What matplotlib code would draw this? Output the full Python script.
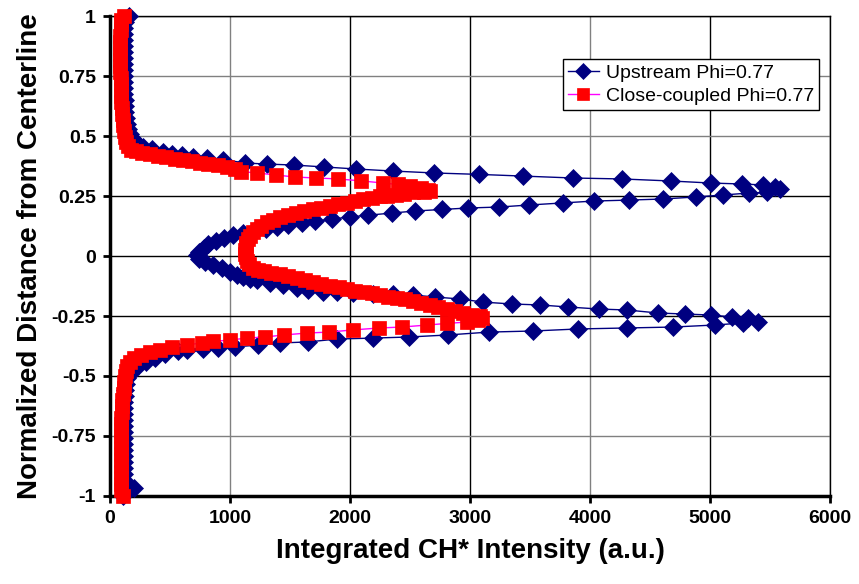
import matplotlib
matplotlib.use('Agg')
import matplotlib.pyplot as plt

plt.rcParams['font.family'] = ['Liberation Sans', 'DejaVu Sans']

# Upstream Phi=0.77 (x = intensity, y = normalized distance)
up_x = [160, 125, 118, 117, 116, 116, 116, 116, 116, 117,
        117, 118, 119, 120, 122, 125, 128, 133, 140, 150,
        163, 180, 205, 240, 275, 350, 442, 517, 600, 692,
        808, 942, 1125, 1308, 1533, 1783, 2050, 2358, 2700, 3075,
        3442, 3858, 4267, 4675, 5008, 5267, 5442, 5542, 5583, 5475,
        5325, 5108, 4883, 4608, 4325, 4033, 3775, 3492, 3242, 2983,
        2767, 2542, 2350, 2150, 2000, 1850, 1708, 1600, 1483, 1392,
        1300, 1200, 1110, 1025, 950, 880, 820, 780, 745, 725,
        740, 790, 858, 930, 1000, 1055, 1108, 1165, 1225, 1333,
        1442, 1558, 1650, 1775, 1892, 2025, 2190, 2358, 2525, 2708,
        2917, 3108, 3350, 3583, 3817, 4075, 4308, 4567, 4792, 5008,
        5183, 5317, 5400, 5275, 5042, 4692, 4308, 3900, 3525, 3158,
        2817, 2492, 2192, 1892, 1650, 1417, 1233, 1042, 900, 775,
        642, 567, 458, 375, 300, 240, 195, 165, 145, 133,
        126, 122, 120, 118, 117, 117, 116, 116, 116, 116,
        116, 116, 116, 116, 117, 120, 140, 200, 130, 110]
up_y = [1.0, 0.975, 0.95, 0.925, 0.9, 0.875, 0.85, 0.825, 0.8, 0.775,
        0.75, 0.725, 0.7, 0.675, 0.65, 0.625, 0.6, 0.575, 0.55, 0.53,
        0.51, 0.49, 0.475, 0.462, 0.454, 0.446, 0.432, 0.425, 0.419, 0.414,
        0.41, 0.402, 0.3875, 0.383, 0.379, 0.371, 0.3625, 0.354, 0.346, 0.34,
        0.333, 0.325, 0.321, 0.3125, 0.304, 0.3, 0.296, 0.2875, 0.279, 0.265,
        0.2625, 0.254, 0.246, 0.2375, 0.233, 0.229, 0.221, 0.2125, 0.204, 0.2,
        0.194, 0.1875, 0.179, 0.17, 0.1625, 0.154, 0.144, 0.1375, 0.129, 0.121,
        0.113, 0.104, 0.095, 0.086, 0.075, 0.062, 0.048, 0.033, 0.018, 0.004,
        -0.012, -0.026, -0.0375, -0.052, -0.067, -0.078, -0.0875, -0.094, -0.1, -0.1125,
        -0.121, -0.133, -0.142, -0.148, -0.152, -0.155, -0.158, -0.16, -0.1625, -0.171,
        -0.179, -0.192, -0.2, -0.204, -0.2125, -0.221, -0.225, -0.2375, -0.242, -0.246,
        -0.254, -0.258, -0.275, -0.279, -0.2875, -0.296, -0.3, -0.304, -0.3125, -0.317,
        -0.329, -0.3375, -0.342, -0.346, -0.358, -0.3625, -0.371, -0.379, -0.383, -0.3875,
        -0.392, -0.396, -0.408, -0.425, -0.44, -0.455, -0.47, -0.49, -0.51, -0.535,
        -0.56, -0.585, -0.61, -0.635, -0.66, -0.685, -0.71, -0.735, -0.76, -0.785,
        -0.81, -0.835, -0.86, -0.885, -0.91, -0.935, -0.955, -0.967, -0.985, -1.0]

# Close-coupled Phi=0.77
cc_x = [120, 95, 90, 88, 87, 86, 86, 86, 86, 87,
        87, 88, 89, 90, 92, 94, 97, 101, 106, 112,
        118, 125, 135, 150, 175, 215, 270, 333, 400, 470,
        540, 608, 680, 750, 820, 900, 975, 1040, 1092, 1225,
        1383, 1542, 1717, 1900, 2092, 2275, 2400, 2500, 2590, 2650,
        2667, 2620, 2525, 2450, 2380, 2310, 2250, 2180, 2110, 2040,
        1975, 1900, 1830, 1760, 1692, 1620, 1550, 1480, 1417, 1360,
        1305, 1260, 1225, 1195, 1170, 1150, 1137, 1130, 1127, 1128,
        1132, 1142, 1160, 1190, 1230, 1280, 1345, 1417, 1485, 1555,
        1625, 1692, 1760, 1835, 1905, 1975, 2045, 2115, 2180, 2250,
        2320, 2390, 2460, 2525, 2595, 2665, 2735, 2808, 2875, 2945,
        3015, 3083, 3100, 3070, 2975, 2808, 2642, 2433, 2242, 2025,
        1825, 1642, 1450, 1292, 1142, 1000, 858, 767, 642, 520,
        420, 333, 260, 200, 165, 145, 135, 128, 120, 114,
        108, 104, 100, 97, 95, 93, 92, 91, 90, 90,
        89, 89, 89, 90, 90, 92, 95, 108]
cc_y = [1.0, 0.985, 0.965, 0.94, 0.915, 0.89, 0.865, 0.84, 0.815, 0.79,
        0.765, 0.74, 0.715, 0.69, 0.665, 0.64, 0.615, 0.59, 0.567, 0.545,
        0.52, 0.496, 0.475, 0.458, 0.443, 0.436, 0.43, 0.425, 0.418, 0.411,
        0.405, 0.4, 0.394, 0.389, 0.384, 0.379, 0.372, 0.362, 0.352, 0.346,
        0.3375, 0.329, 0.325, 0.321, 0.313, 0.304, 0.298, 0.29, 0.283, 0.277,
        0.272, 0.268, 0.265, 0.26, 0.255, 0.251, 0.248, 0.243, 0.236, 0.229,
        0.222, 0.216, 0.209, 0.202, 0.196, 0.187, 0.178, 0.17, 0.1625, 0.152,
        0.14, 0.127, 0.114, 0.1, 0.085, 0.07, 0.055, 0.04, 0.025, 0.01,
        -0.005, -0.02, -0.035, -0.048, -0.057, -0.064, -0.07, -0.075, -0.084, -0.093,
        -0.101, -0.109, -0.116, -0.123, -0.13, -0.1375, -0.144, -0.15, -0.156, -0.1625,
        -0.169, -0.175, -0.181, -0.1875, -0.196, -0.204, -0.212, -0.221, -0.229, -0.237,
        -0.245, -0.252, -0.258, -0.265, -0.275, -0.281, -0.2875, -0.296, -0.3, -0.308,
        -0.317, -0.321, -0.329, -0.3375, -0.342, -0.35, -0.356, -0.3625, -0.37, -0.38,
        -0.39, -0.402, -0.413, -0.425, -0.44, -0.46, -0.48, -0.5, -0.525, -0.55,
        -0.575, -0.6, -0.625, -0.65, -0.675, -0.7, -0.725, -0.75, -0.775, -0.8,
        -0.825, -0.85, -0.875, -0.9, -0.925, -0.95, -0.975, -1.0]

x_ticks = [0, 1000, 2000, 3000, 4000, 5000, 6000]
x_labels = ['0', '1000', '2000', '3000', '4000', '5000', '6000']
y_ticks = [1, 0.75, 0.5, 0.25, 0, -0.25, -0.5, -0.75, -1]
y_labels = ['1', '0.75', '0.5', '0.25', '0', '-0.25', '-0.5', '-0.75', '-1']

# gridlines come out slightly different shades in the original
x_grid_colors = ['black', '#808080', 'black', 'black', '#808080', 'black', 'black']
y_grid_colors = ['black', '#808080', '#808080', 'black', 'black', 'black', 'black', '#808080', 'black']

fig = plt.figure(figsize=(8.59, 5.84), dpi=100)
ax = fig.add_axes([110 / 859, 88 / 584, 720 / 859, 480 / 584])

ax.plot(up_x, up_y, color='#000080', lw=1, marker='D', ms=9,
        mfc='#000080', mec='#000080', mew=0.5, clip_on=False, zorder=3,
        label='Upstream Phi=0.77')
ax.plot(cc_x, cc_y, color='#FF00FF', lw=1, marker='s', ms=10.5,
        mfc='#FF0000', mec='#FF0000', mew=0.5, clip_on=False, zorder=4,
        label='Close-coupled Phi=0.77')

ax.set_xlim(0, 6000)
ax.set_ylim(-1, 1)
ax.set_xticks(x_ticks)
ax.set_xticklabels(x_labels)
ax.set_yticks(y_ticks)
ax.set_yticklabels(y_labels)
ax.grid(True, lw=1)
ax.set_axisbelow(True)
for gl, c in zip(ax.get_xgridlines(), x_grid_colors):
    gl.set_color(c)
for gl, c in zip(ax.get_ygridlines(), y_grid_colors):
    gl.set_color(c)

for side in ['left', 'bottom']:
    ax.spines[side].set_linewidth(2.5)
for side in ['top', 'right']:
    ax.spines[side].set_linewidth(1)
ax.tick_params(direction='out', length=5, width=2, labelsize=14, pad=5)
for lab in ax.get_xticklabels() + ax.get_yticklabels():
    lab.set_fontweight('bold')

ax.set_xlabel('Integrated CH* Intensity (a.u.)', fontsize=20, fontweight='bold', labelpad=8)
ax.set_ylabel('Normalized Distance from Centerline', fontsize=20, fontweight='bold', labelpad=6)

leg = ax.legend(loc='upper left', bbox_to_anchor=(0.629, 0.91), fontsize=14,
                frameon=True, fancybox=False, framealpha=1, edgecolor='black',
                borderaxespad=0, borderpad=0.25, handlelength=1.6,
                handletextpad=0.35, labelspacing=0.3, markerscale=0.85)
leg.get_frame().set_linewidth(1)

fig.savefig('out.png', dpi=100)
